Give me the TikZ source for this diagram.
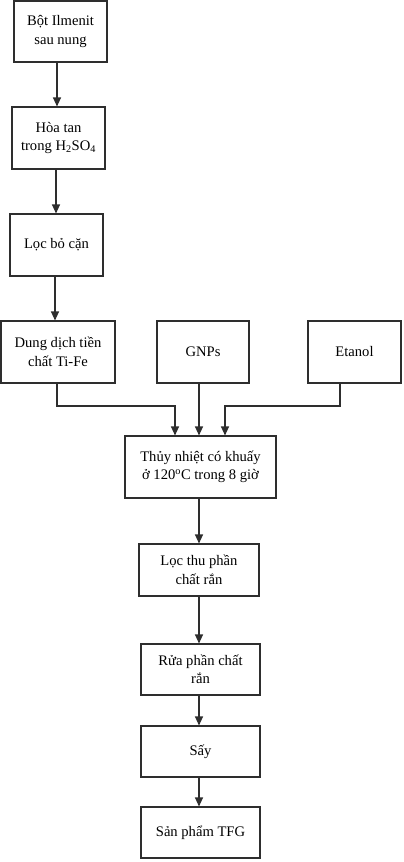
\documentclass[tikz,border=0pt]{standalone}
\usepackage{fontspec}
\setmainfont{Liberation Serif}
\usetikzlibrary{arrows.meta,calc}
\definecolor{ln}{HTML}{2E2E2E}
\begin{document}
\begin{tikzpicture}[x=1pt,y=-1pt,
  box/.style={draw=ln,line width=1.1pt,rectangle,align=center,inner sep=2pt,
    font=\fontsize{14.6}{18.5}\selectfont,text=black},
  arr/.style={draw=ln,line width=1.1pt,-{Triangle[length=9pt,width=8pt]}},
  ]
\useasboundingbox (0,0) rectangle (404,862);
\node[box,minimum width=93pt,minimum height=61pt] (b1) at (60.5,31.5) {Bột Ilmenit\\sau nung};
\node[box,minimum width=93pt,minimum height=62pt] (b2) at (58.5,138) {Hòa tan\\trong H\textsubscript{2}SO\textsubscript{4}};
\node[box,minimum width=93pt,minimum height=62pt] (b3) at (56.5,245) {Lọc bỏ cặn};
\node[box,minimum width=114pt,minimum height=62pt] (b4) at (58,352) {Dung dịch tiền\\chất Ti-Fe};
\node[box,minimum width=92pt,minimum height=62pt] (g) at (203,352) {GNPs};
\node[box,minimum width=93pt,minimum height=62pt] (e) at (354.5,352) {Etanol};
\node[box,minimum width=151pt,minimum height=62pt] (t) at (200.5,467) {Thủy nhiệt có khuấy\\ở 120\textsuperscript{o}C trong 8 giờ};
\node[box,minimum width=120pt,minimum height=52pt] (l) at (199,570) {Lọc thu phần\\chất rắn};
\node[box,minimum width=119pt,minimum height=51pt] (r) at (200.5,669.5) {Rửa phần chất\\rắn};
\node[box,minimum width=119pt,minimum height=51pt] (s) at (200.5,751.5) {Sấy};
\node[box,minimum width=119pt,minimum height=51pt] (p) at (200.5,832.5) {Sản phẩm TFG};
\draw[arr] (57,0 |- b1.south) -- (57,0 |- b2.north);
\draw[arr] (56,0 |- b2.south) -- (56,0 |- b3.north);
\draw[arr] (55,0 |- b3.south) -- (55,0 |- b4.north);
\draw[arr] (57,0 |- b4.south) -- (57,406) -- (175,406) -- (175,0 |- t.north);
\draw[arr] (199,0 |- g.south) -- (199,0 |- t.north);
\draw[arr] (340,0 |- e.south) -- (340,406) -- (225,406) -- (225,0 |- t.north);
\draw[arr] (199,0 |- t.south) -- (199,0 |- l.north);
\draw[arr] (199,0 |- l.south) -- (199,0 |- r.north);
\draw[arr] (199,0 |- r.south) -- (199,0 |- s.north);
\draw[arr] (199,0 |- s.south) -- (199,0 |- p.north);
\end{tikzpicture}
\end{document}
